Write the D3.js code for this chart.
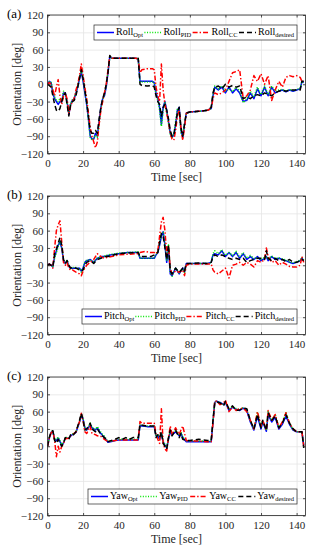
<!DOCTYPE html>
<html>
<head>
<meta charset="utf-8">
<title>Orientation tracking</title>
<script src="https://cdn.jsdelivr.net/npm/d3@7"></script>
<style>
	html, body { margin:0; padding:0; background:#fff; }
	svg { display:block; font-family: "Liberation Serif", "Times New Roman", serif; }
	.grid line { stroke:#e4e4e4; stroke-width:0.8px; }
	.grid path { display:none; }
	.tk text { fill:#262626; font-size:11px; font-family: "Liberation Serif", serif; }
	.tk path { display:none; }
	.tk line { stroke:#262626; stroke-width:0.8px; }
	.box { fill:none; stroke:#262626; stroke-width:0.8px; }
	.ser { fill:none; stroke-width:1.5px; stroke-linejoin:round; }
</style>
</head>
<body>
<svg id="chart"></svg>
<script>

//ticks
var xTicks = [0,20,40,60,80,100,120,140];
var yTicks = [-120,-90,-60,-30,0,30,60,90,120];
var subLabels = ["Opt","PID","CC","desired"];

//roll (a)
var rollT = [0,1,2,3,4,5,6,7,8,9,10,11,12,13,14,15,16,17,18,19,20,21,22,23,24,25,26,27,28,29,30,31,32,33,34,35,36,
	40,45,50,51,52,53,56,59,
	60,61,62,63,64,65,66,67,68,69,70,71,72,73,74,75,76,77,78,
	80,85,90,92,93,94,
	96,98,100,102,104,106,108,110,112,114,116,118,120,122,124,126,128,130,132,134,136,138,140,142,
	143,144];
var rollDes = [0,-2,-5,-20,-35,-45,-47,-42,-30,-20,-15,-35,-55,-35,-30,-28,-20,-5,10,25,10,-10,-30,-55,-80,-85,-85,-80,-85,-60,-40,-25,-15,0,20,50,45,
	45,45,45,45,0,-2,-3,-2,
	-5,-20,-30,-35,-55,-40,-35,-45,-60,-80,-90,-88,-70,-50,-40,-75,-90,-70,-50,
	-48,-47,-45,-40,-15,-5,
	-3,-8,0,-5,-2,-5,-3,-25,-22,-25,-20,-18,-20,-15,-18,-20,-15,-12,-10,-12,-10,-10,-10,-10,
	5,5];
var rollOpt = [0,5,3,-15,-25,-30,-35,-30,-30,-15,-15,-30,-52,-35,-28,-25,-15,-5,10,22,5,-15,-35,-60,-90,-95,-95,-85,-90,-65,-40,-25,-20,-5,20,48,45,
	45,45,45,43,5,5,5,5,
	3,-15,-25,-40,-70,-40,-30,-45,-65,-85,-92,-88,-70,-45,-40,-80,-92,-70,-50,
	-48,-47,-45,-42,-20,-5,
	-10,-5,-15,-5,-15,-8,-15,-30,-28,-15,-25,-8,-20,-5,-20,-5,-15,-12,-10,-13,-10,-12,-10,-8,
	5,3];
var rollPid = [0,4,5,-12,-22,-28,-30,-25,-28,-12,-18,-32,-50,-33,-27,-24,-14,-3,12,24,8,-12,-33,-62,-92,-97,-93,-88,-92,-68,-42,-27,-18,-3,22,47,45,
	45,45,45,44,4,4,4,4,
	2,-18,-28,-45,-73,-45,-32,-48,-68,-88,-93,-85,-65,-42,-45,-85,-90,-68,-50,
	-48,-47,-45,-42,-18,-3,
	-8,-3,-12,-8,-13,-5,-12,-32,-25,-12,-22,-5,-18,-3,-18,-3,-12,-10,-9,-12,-9,-11,-9,-7,
	5,3];
var rollCc = [0,3,0,-10,-20,-5,8,-20,-35,-20,-15,-25,-50,-38,-30,-25,-10,0,15,35,15,-5,-25,-50,-75,-90,-100,-110,-100,-70,-45,-30,-15,0,25,48,45,
	45,45,45,43,20,25,27,27,
	25,-5,-20,-30,35,-10,-35,-50,-65,-85,-95,-97,-80,-55,-45,-75,-97,-75,-50,
	-48,-47,-45,-42,-25,-15,
	-18,-15,-10,5,20,22,25,-25,-20,-10,15,5,18,0,15,-28,-10,5,-5,12,15,13,15,12,
	5,5];

//pitch (b)
var pitchT = [0,1,2,3,4,5,6,7,8,9,10,11,12,13,14,
	16,18,19,20,21,22,
	24,26,28,30,32,34,36,
	40,45,50,51,52,55,58,
	60,61,62,63,64,65,66,67,68,69,70,
	72,74,76,77,78,
	80,85,90,92,93,94,
	96,98,100,102,104,106,108,110,112,114,116,118,120,122,
	123,
	124,126,128,130,132,134,136,138,140,142,
	143,144];
var pitchDes = [0,2,0,-3,20,28,38,48,35,10,3,8,0,-5,-3,
	-5,-8,-10,-8,0,5,
	8,3,10,12,15,15,17,
	20,21,22,22,15,15,15,
	18,20,22,40,55,50,30,10,35,-10,-15,
	-5,-12,-5,-10,3,
	3,4,3,5,15,18,
	15,18,15,12,10,12,10,12,5,8,10,12,12,10,
	25,
	12,8,12,8,10,6,10,5,5,8,
	10,8];
var pitchOpt = [0,2,0,-3,15,25,35,40,30,8,3,8,-2,-5,-5,
	-5,-5,-10,-5,5,8,
	10,5,12,15,15,17,18,
	20,22,22,22,12,12,12,
	12,18,22,35,50,58,35,5,30,-15,-18,
	-5,-15,-5,-12,3,
	3,3,3,5,18,20,
	18,25,15,22,15,22,12,20,10,15,10,15,8,12,
	15,
	8,15,10,12,10,8,5,3,5,8,
	12,8];
var pitchPid = [0,1,0,-2,12,22,32,42,32,10,4,9,-1,-6,-4,
	-4,-6,-12,-4,6,9,
	9,6,13,14,16,18,19,
	21,22,23,23,12,12,12,
	13,19,23,38,55,57,38,8,35,-13,-19,
	-4,-14,-6,-13,2,
	3,3,3,5,20,25,
	20,27,17,22,17,24,14,22,12,17,12,13,10,14,
	16,
	10,16,12,13,11,9,6,4,6,9,
	14,9];
var pitchCc = [0,2,0,-5,30,60,70,77,40,5,0,5,-5,-8,-8,
	-12,-15,-18,-10,-5,0,
	5,10,20,15,12,14,15,
	18,19,20,20,22,24,22,
	22,20,25,50,75,83,60,20,35,-5,-15,
	-10,-12,-8,-18,0,
	2,2,2,2,-8,-12,
	-15,-10,-5,-22,0,2,5,0,5,2,-3,8,5,10,
	30,
	15,5,8,0,5,2,-2,-3,-3,0,
	15,5];

//yaw (c)
var yawT = [0,1,2,3,4,5,6,7,8,9,10,
	12,13,14,16,18,19,20,21,22,23,24,25,
	27,28,30,32,34,36,38,40,42,44,46,48,50,51,
	52,53,56,60,
	61,62,63,64,65,66,67,68,69,70,
	72,74,75,76,78,
	80,85,90,92,93,94,95,97,99,100,
	102,104,106,108,110,112,114,116,118,120,
	121,123,124,
	126,128,130,132,134,136,138,140,142,
	143,144];
var yawDes = [0,15,25,27,10,5,12,5,0,5,15,
	12,20,18,25,45,57,45,28,30,35,40,30,
	25,30,20,15,8,10,12,15,12,15,12,15,15,15,
	38,37,35,35,
	15,20,15,25,5,0,-5,15,28,18,
	28,15,22,12,10,
	10,12,10,10,45,75,77,75,70,78,
	65,70,62,63,66,65,45,30,55,32,
	45,28,58,
	45,52,32,40,55,40,30,25,25,
	25,-3];
var yawOpt = [0,14,24,26,12,10,14,8,2,6,14,
	14,18,20,24,42,55,47,32,28,32,38,32,
	28,32,22,15,7,8,10,11,11,11,11,11,11,11,
	36,35,34,34,
	18,18,12,22,8,2,-3,12,25,20,
	25,18,22,15,8,
	8,8,8,8,42,76,78,76,72,76,
	62,68,64,62,66,62,42,28,52,30,
	42,26,55,
	42,50,30,38,52,38,28,25,25,
	25,2];
var yawPid = [0,15,25,27,13,12,16,10,3,7,15,
	15,19,21,25,43,56,48,33,29,34,40,33,
	29,34,24,17,8,9,10,12,12,12,12,12,12,12,
	37,36,35,35,
	19,19,13,23,9,3,-2,14,27,22,
	27,20,25,17,9,
	9,9,9,9,44,77,78,75,72,77,
	64,69,65,63,67,64,44,30,58,33,
	44,29,60,
	44,55,33,40,58,40,29,25,25,
	25,3];
var yawCc = [0,13,23,27,10,-18,0,-10,0,5,13,
	14,18,20,25,43,57,44,25,22,28,35,22,
	20,18,17,12,8,9,10,11,11,11,11,11,11,11,
	43,40,40,40,
	20,12,5,65,5,-5,-8,15,35,20,
	32,20,28,35,10,
	9,9,8,8,40,78,78,72,75,80,
	60,68,62,65,66,60,45,30,60,35,
	45,28,62,
	45,55,32,42,58,40,30,25,25,
	25,0];

var W = 311, H = 550,
	plotL = 47.5, plotR = 305.5, plotH = 138.5;

var styles = [
	{color:"#0000ff", dash:null},
	{color:"#00e600", dash:"1,1.6"},
	{color:"#ff0000", dash:"5,2,1.4,2"},
	{color:"#000000", dash:"5,3"}
];

var panels = [
	{tag:"(a)", name:"Roll", top:15, t:rollT, ser:[rollOpt,rollPid,rollCc,rollDes], lgX:94, lgY:10},
	{tag:"(b)", name:"Pitch", top:196, t:pitchT, ser:[pitchOpt,pitchPid,pitchCc,pitchDes], lgX:82, lgY:113},
	{tag:"(c)", name:"Yaw", top:377, t:yawT, ser:[yawOpt,yawPid,yawCc,yawDes], lgX:88, lgY:112}
];

var svg = d3.select("#chart").attr("width", W).attr("height", H);
svg.append("rect").attr("width", W).attr("height", H).attr("fill","#fff");

var x = d3.scaleLinear().domain([0,145]).range([plotL, plotR]);

panels.forEach(function(p, pi){
	var y = d3.scaleLinear().domain([-120,120]).range([p.top+plotH, p.top]);
	var g = svg.append("g");

	//grid
	g.append("g").attr("class","grid").attr("transform","translate(0,"+(p.top+plotH)+")")
		.call(d3.axisBottom(x).tickValues(xTicks).tickSize(-plotH).tickFormat(""));
	g.append("g").attr("class","grid").attr("transform","translate("+plotL+",0)")
		.call(d3.axisLeft(y).tickValues(yTicks).tickSize(-(plotR-plotL)).tickFormat(""));

	//series
	var clipId = "clip"+pi;
	g.append("clipPath").attr("id", clipId).append("rect")
		.attr("x", plotL).attr("y", p.top).attr("width", plotR-plotL).attr("height", plotH);
	var gs = g.append("g").attr("clip-path","url(#"+clipId+")");
	p.ser.forEach(function(vals, si){
		var line = d3.line().x(function(d,i){ return x(p.t[i]); }).y(function(d){ return y(d); });
		gs.append("path").attr("class","ser").attr("d", line(vals))
			.attr("stroke", styles[si].color)
			.attr("stroke-dasharray", styles[si].dash);
	});

	//axes: labels + inner ticks
	g.append("g").attr("class","tk").attr("transform","translate(0,"+(p.top+plotH)+")")
		.call(d3.axisBottom(x).tickValues(xTicks).tickSize(-2.5).tickPadding(6));
	g.append("g").attr("class","tk").attr("transform","translate(0,"+p.top+")")
		.call(d3.axisTop(x).tickValues(xTicks).tickSize(-2.5).tickFormat(""));
	g.append("g").attr("class","tk").attr("transform","translate("+plotL+",0)")
		.call(d3.axisLeft(y).tickValues(yTicks).tickSize(-2.5).tickPadding(4));
	g.append("g").attr("class","tk").attr("transform","translate("+plotR+",0)")
		.call(d3.axisRight(y).tickValues(yTicks).tickSize(-2.5).tickFormat(""));

	g.append("rect").attr("class","box").attr("x",plotL).attr("y",p.top)
		.attr("width",plotR-plotL).attr("height",plotH);

	//axis titles
	g.append("text").attr("x", (plotL+plotR)/2).attr("y", p.top+plotH+27)
		.attr("text-anchor","middle").attr("font-size",12).attr("fill","#262626").text("Time [sec]");
	g.append("text").attr("transform","translate(21,"+(p.top+plotH/2)+") rotate(-90)")
		.attr("text-anchor","middle").attr("font-size",12).attr("fill","#262626").text("Orientation [deg]");
	g.append("text").attr("x",7).attr("y",p.top+3).attr("font-size",13).attr("fill","#000").text(p.tag);

	//legend
	var lx0 = p.lgX, lx1 = 297, ly = p.top+p.lgY, lh = 15;
	var lg = g.append("g");
	lg.append("rect").attr("x",lx0).attr("y",ly).attr("width",lx1-lx0).attr("height",lh)
		.attr("fill","#fff").attr("stroke","#262626").attr("stroke-width",0.7);
	var lineLen = 17, gap = 2, items = [];
	subLabels.forEach(function(s, si){
		var it = lg.append("g");
		it.append("line").attr("x1",0).attr("x2",lineLen).attr("y1",0).attr("y2",0)
			.attr("stroke", styles[si].color).attr("stroke-width",1.5)
			.attr("stroke-dasharray", styles[si].dash);
		var tx = it.append("text").attr("x", lineLen+gap).attr("y", 2).attr("font-size",10).attr("fill","#000");
		tx.append("tspan").text(p.name);
		tx.append("tspan").attr("font-size",6.5).attr("dy",2.5).text(s);
		items.push({g:it, w:tx.node().getComputedTextLength()});
	});
	var total = d3.sum(items, function(d){ return lineLen+gap+d.w; });
	var sp = (lx1-lx0-6-total)/3, cx = lx0+3;
	items.forEach(function(d){
		d.g.attr("transform","translate("+cx+","+(ly+lh/2)+")");
		cx += lineLen+gap+d.w+sp;
	});
});

</script>
</body>
</html>
